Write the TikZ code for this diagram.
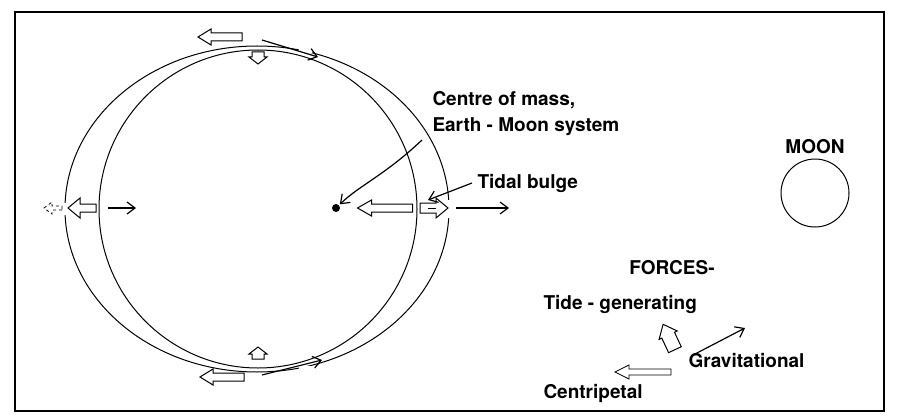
\documentclass[tikz,border=0pt]{standalone}
\usepackage{fontspec}
\setmainfont{TeX Gyre Heros}
\usetikzlibrary{arrows.meta}
% \harr{name}{x}{y}{angle}{length}{shaft half width}{head half width}{head length}{extra}
\newcommand{\harr}[9]{%
  \begin{scope}[shift={(#2,#3)},rotate=-#4]
    \coordinate (#1) at (0,0);
    \draw[fill=white,line join=miter,#9] (-#5/2,-#6) -- (#5/2-#8,-#6) -- (#5/2-#8,-#7) -- (#5/2,0)
      -- (#5/2-#8,#7) -- (#5/2-#8,#6) -- (-#5/2,#6) -- cycle;
  \end{scope}}
\begin{document}
\begin{tikzpicture}[x=1pt,y=-1pt,line width=1pt,
  thin/.style={-{Straight Barb[length=8pt,width=12pt]},line width=1.2pt},
  lab/.style={font=\fontsize{19}{21}\selectfont\bfseries,inner sep=0pt}]
\useasboundingbox (0,0) rectangle (899,420);
\draw[line width=1.3pt] (15,12) rectangle (884,411);
% Earth and bulge
\draw (258,209) circle (159);
\draw (257,209) ellipse [x radius=192,y radius=163];
\fill[white] (299,43) rectangle (312,53) (61,203) rectangle (68,215) (447,200) rectangle (454,218) (299,366) rectangle (312,378);
% centre of mass
\fill (336,208) circle (4) node (cm) {};
% top
\harr{t1}{220}{37}{180}{44}{4}{8}{13}{}
\harr{t2}{258}{58}{90}{12}{6}{9}{7}{}
\coordinate (t3a) at (262,40); \coordinate (t3b) at (318,57);
\draw[thin] (t3a) -- (t3b);
% bottom
\harr{b1}{222}{377}{180}{44}{4}{8}{13}{}
\harr{b2}{258}{353}{270}{12}{6}{9}{7}{}
\coordinate (b3a) at (262,375); \coordinate (b3b) at (322,360);
\draw[thin] (b3a) -- (b3b);
% left
\harr{l1}{53}{208}{180}{18}{2}{6}{8}{dashed,line width=0.8pt}
\harr{l2}{82}{208}{180}{28}{4}{10}{12}{}
\coordinate (l3a) at (108,208); \coordinate (l3b) at (136,208);
\draw[thin] (l3a) -- (l3b);
% right
\harr{r1}{385}{208}{180}{55}{4}{8}{14}{}
\harr{r2}{434}{208}{0}{28}{5}{10}{12}{}
\draw[line width=0.8pt] (428,208) -- (436,208);
\coordinate (r3a) at (456,208); \coordinate (r3b) at (509,208);
\draw[thin] (r3a) -- (r3b);
% labels
\node[lab,anchor=west] (c1) at (432,100) {Centre of mass,};
\node[lab,anchor=west] (c2) at (432,127) {Earth - Moon system};
\coordinate (ca) at (422,140);
\draw[thin] (ca) .. controls (385,175) and (360,185) .. (cm);
\node[lab,anchor=west] (tb) at (477,183) {Tidal bulge};
\coordinate (tba) at (428,200);
\draw[thin] (tb.west) ++(-5,0) -- (tba);
\node[lab] (moonl) at (815,147) {MOON};
\draw (815,193) circle (34) node (moon) {};
\node[lab] (forces) at (672,268) {FORCES-};
\node[lab,anchor=west] (tide) at (543,304) {Tide - generating};
\harr{tg}{669}{337}{245}{28}{7}{10}{12}{}
\coordinate (ga) at (695,354); \coordinate (gb) at (745,328);
\draw[thin] (ga) -- (gb);
\node[lab,anchor=west] (grav) at (688,361) {Gravitational};
\harr{cp}{643}{372}{180}{56}{3}{7}{14}{line width=0.8pt}
\node[lab,anchor=west] (cent) at (543,393) {Centripetal};
\end{tikzpicture}
\end{document}
